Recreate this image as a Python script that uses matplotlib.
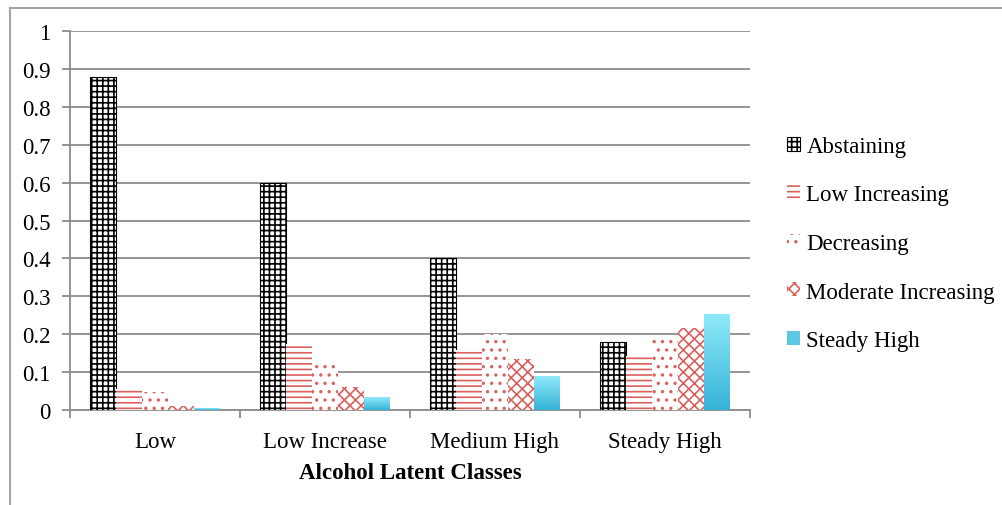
import numpy as np
import matplotlib
matplotlib.use("Agg")
import matplotlib.pyplot as plt
from matplotlib.lines import Line2D
from matplotlib.patches import Patch
from matplotlib.colors import LinearSegmentedColormap

categories = ["Low", "Low Increase", "Medium High", "Steady High"]
series = ["Abstaining", "Low Increasing", "Decreasing", "Moderate Increasing", "Steady High"]
abstaining = [0.878, 0.600, 0.400, 0.180]
low_increasing = [0.055, 0.175, 0.158, 0.142]
decreasing = [0.047, 0.124, 0.200, 0.190]
moderate_increasing = [0.010, 0.060, 0.135, 0.216]
steady_high = [0.005, 0.032, 0.088, 0.253]
yticks = [0, 0.1, 0.2, 0.3, 0.4, 0.5, 0.6, 0.7, 0.8, 0.9, 1]

RED = "#d9605c"
plt.rcParams["font.family"] = ["Liberation Serif", "DejaVu Serif"]
plt.rcParams["hatch.linewidth"] = 1.2

W, H = 1003, 506
fig = plt.figure(figsize=(W / 100, H / 100), dpi=100)
ax = fig.add_axes([70 / W, 95 / H, 680 / W, 379 / H])

x = np.arange(len(categories))
bw = 0.152
styles = [
    dict(facecolor="white", edgecolor="black", hatch="+++", linewidth=0.8),
    dict(facecolor="white", edgecolor=RED, hatch="---", linewidth=0),
    dict(facecolor="white", edgecolor=RED, hatch="..", linewidth=0),
    dict(facecolor="white", edgecolor=RED, hatch="xxx", linewidth=0),
    dict(facecolor="#5cc8e6", edgecolor="none", linewidth=0),
]
data = [abstaining, low_increasing, decreasing, moderate_increasing, steady_high]
for j, (vals, st) in enumerate(zip(data, styles)):
    ax.bar(x + (j - 2) * bw, vals, bw, zorder=3, **st)

# gradient fill for the Steady High bars
cmap = LinearSegmentedColormap.from_list("cy", ["#36b2d8", "#8feafa"])
grad = np.linspace(0, 1, 100).reshape(-1, 1)
for xi, v in zip(x + 2 * bw, steady_high):
    ax.imshow(grad, cmap=cmap, origin="lower", aspect="auto", zorder=4,
              extent=[xi - bw / 2, xi + bw / 2, 0, v])

ax.set_xlim(-0.5, 3.5)
ax.set_ylim(0, 1)
ax.set_yticks(yticks)
ax.set_yticklabels([f"{t:g}" for t in yticks])
ax.yaxis.grid(True, color="#8c8c8c", lw=1.3, zorder=0)
ax.set_axisbelow(True)
ax.set_xticks(np.arange(-0.5, 4, 1))
ax.set_xticklabels([])
ax.set_xticks(x, minor=True)
ax.set_xticklabels(categories, minor=True)
ax.tick_params(axis="x", which="minor", length=0, pad=15, labelsize=16.5)
ax.tick_params(axis="x", which="major", length=6, color="#8c8c8c", width=1.3)
ax.tick_params(axis="y", length=6, color="#8c8c8c", width=1.3, pad=8, labelsize=16.5)
for s in ["top", "right"]:
    ax.spines[s].set_visible(False)
for s in ["left", "bottom"]:
    ax.spines[s].set_color("#8c8c8c")
    ax.spines[s].set_linewidth(1.3)
ax.set_xlabel("Alcohol Latent Classes", fontsize=16.5, fontweight="bold", labelpad=7)

handles = [Patch(**st) for st in styles]
ax.legend(handles, series, loc="upper left", bbox_to_anchor=(787 / W, 1 - 137 / H),
          bbox_transform=fig.transFigure, frameon=False, fontsize=16.5,
          handlelength=0.55, handleheight=0.55, handletextpad=0.3,
          labelspacing=1.2, borderpad=0, borderaxespad=0)

# outer chart frame
fig.add_artist(Line2D([10 / W, 1], [1 - 9 / H] * 2, transform=fig.transFigure, color="#a6a6a6", lw=1.5))
fig.add_artist(Line2D([10 / W] * 2, [0, 1 - 9 / H], transform=fig.transFigure, color="#a6a6a6", lw=1.5))

fig.savefig("out.png", dpi=100)
